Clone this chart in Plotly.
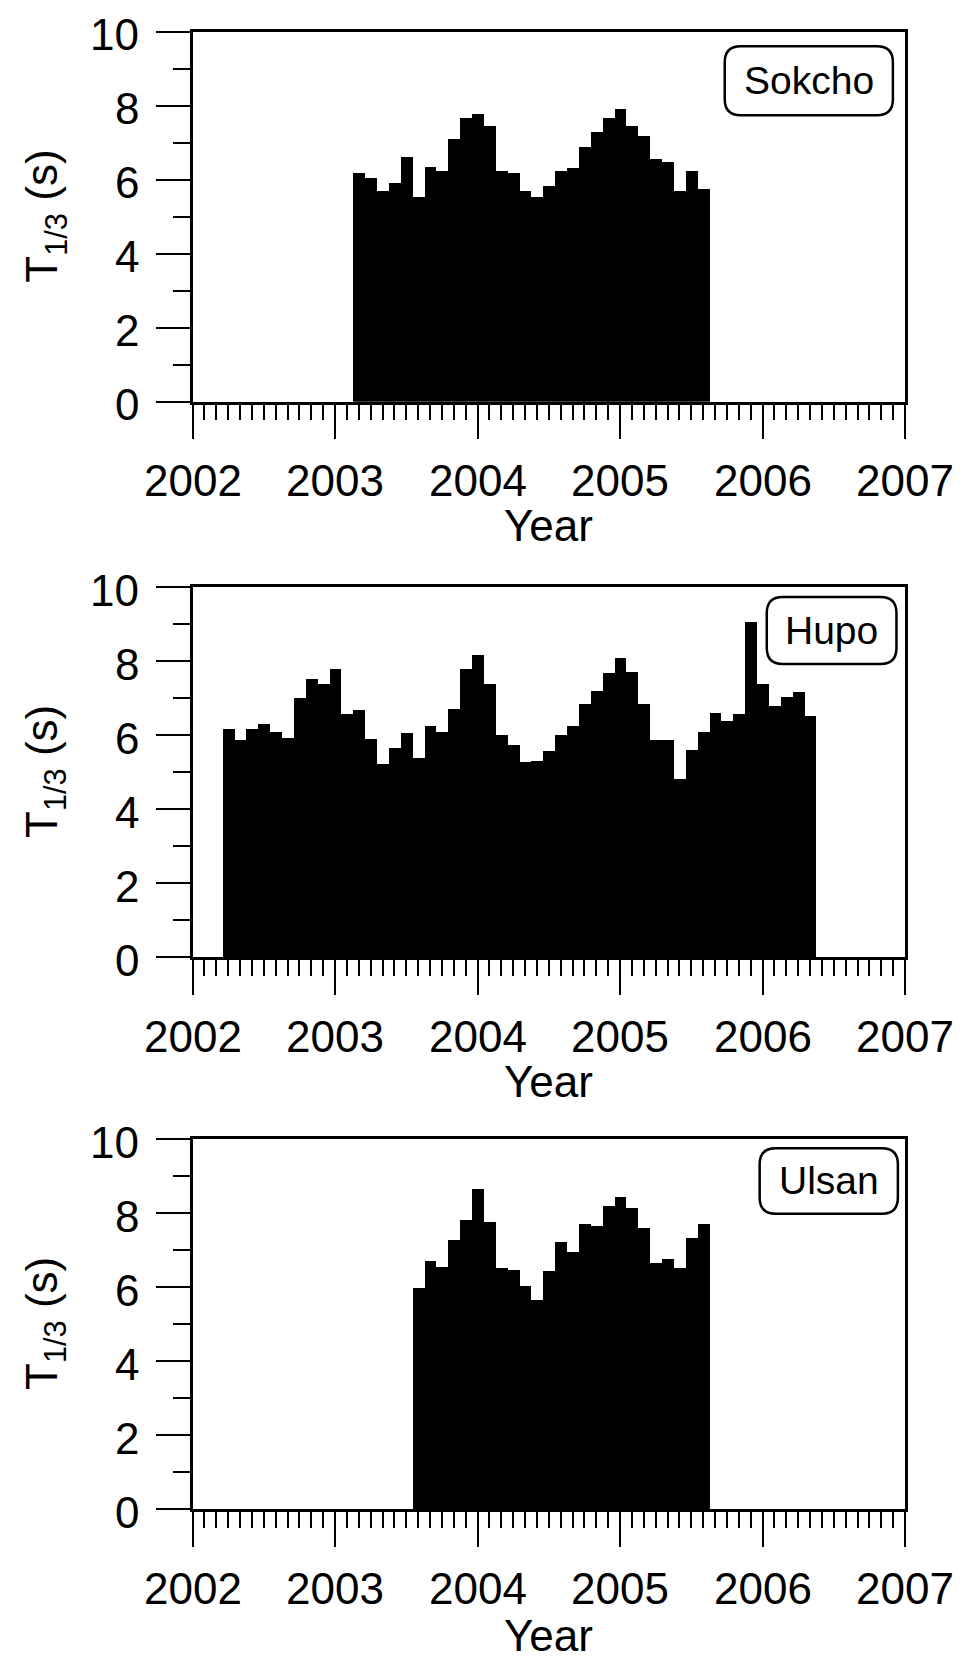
import plotly.graph_objects as go

# ---------------- data (monthly mean significant wave period, s) ----------------
stations = ["Sokcho", "Hupo", "Ulsan"]

sokcho_start = "2003-03"
sokcho_t13 = [6.18, 6.05, 5.69, 5.91, 6.63, 5.53, 6.36, 6.23, 7.11, 7.68,
              7.79, 7.45, 6.25, 6.18, 5.69, 5.53, 5.83, 6.25, 6.33, 6.89,
              7.29, 7.68, 7.92, 7.45, 7.18, 6.57, 6.50, 5.69, 6.24, 5.76]

hupo_start = "2002-04"
hupo_t13 = [6.15, 5.86, 6.15, 6.30, 6.08, 5.92, 6.99, 7.51, 7.38, 7.78,
            6.58, 6.67, 5.88, 5.22, 5.64, 6.05, 5.37, 6.23, 6.09, 6.69,
            7.78, 8.16, 7.38, 6.01, 5.74, 5.28, 5.29, 5.57, 6.01, 6.23,
            6.85, 7.18, 7.67, 8.09, 7.69, 6.85, 5.87, 5.87, 4.81, 5.59,
            6.08, 6.60, 6.37, 6.56, 9.05, 7.38, 6.79, 7.04, 7.15, 6.52]

ulsan_start = "2003-08"
ulsan_t13 = [5.97, 6.71, 6.55, 7.27, 7.82, 8.66, 7.75, 6.52, 6.46, 6.03,
             5.65, 6.42, 7.21, 6.94, 7.69, 7.64, 8.19, 8.42, 8.13, 7.60,
             6.66, 6.75, 6.52, 7.33, 7.71]

year_ticks = [2002, 2003, 2004, 2005, 2006, 2007]
y_ticks = [0, 2, 4, 6, 8, 10]


def month_labels(start, n):
    y, m = map(int, start.split("-"))
    out = []
    for _ in range(n):
        out.append(f"{y:04d}-{m:02d}")
        m += 1
        if m > 12:
            m = 1
            y += 1
    return out


def to_decimal_year(label):
    y, m = map(int, label.split("-"))
    return y + (m - 1) / 12.0


series = [
    (month_labels(sokcho_start, len(sokcho_t13)), sokcho_t13),
    (month_labels(hupo_start, len(hupo_t13)), hupo_t13),
    (month_labels(ulsan_start, len(ulsan_t13)), ulsan_t13),
]

# ---------------- layout geometry ----------------
OFF = 8                      # default page (body) margin of the html page
PAGE_W, PAGE_H = 967, 1656
W, H = PAGE_W - OFF, PAGE_H - OFF


def fx(px):  # page px -> paper fraction (x)
    return (px - OFF) / W


def fy(py):  # page px -> paper fraction (y, from bottom)
    return 1 - (py - OFF) / H


AX_LEFT, AX_RIGHT = 192.5, 905.0
x_dom = [fx(AX_LEFT), fx(AX_RIGHT)]
panels_px = [(31.7, 401.7), (587, 957), (1139.0, 1509.0)]  # (top, bottom) page px
FONT = "Liberation Sans, Arial, Helvetica, sans-serif"
TICK_SIZE = 44
LABEL_SIZE = 39

fig = go.Figure()
shapes = []
annotations = []
txt_font = dict(family=FONT, size=TICK_SIZE, color="black")

for i, ((months, vals), name) in enumerate(zip(series, stations)):
    k = "" if i == 0 else str(i + 1)
    xs = [to_decimal_year(mo) for mo in months]
    fig.add_trace(go.Bar(
        x=xs, y=vals, width=[1 / 12.0] * len(xs),
        marker=dict(color="black", line=dict(width=0)),
        xaxis="x" + k, yaxis="y" + k, showlegend=False,
        hovertemplate="%{x:.2f}: %{y:.2f} s<extra></extra>",
    ))
    top, bot = panels_px[i]
    y_dom = [fy(bot), fy(top)]
    fig.layout["xaxis" + k] = dict(
        domain=x_dom, anchor="y" + k, range=[2002, 2007], automargin=False,
        tickmode="array", tickvals=year_ticks, showticklabels=False,
        ticks="outside", ticklen=35, tickwidth=2, tickcolor="black",
        minor=dict(tickmode="linear", tick0=2002, dtick=1 / 12.0, ticks="outside",
                   ticklen=16, tickwidth=2, tickcolor="black", showgrid=False),
        showline=True, linecolor="black", linewidth=2.5, mirror=True,
        showgrid=False, zeroline=False,
    )
    fig.layout["yaxis" + k] = dict(
        domain=y_dom, anchor="x" + k, range=[0, 10], automargin=False,
        tickmode="array", tickvals=y_ticks, showticklabels=False,
        ticks="outside", ticklen=34, tickwidth=2, tickcolor="black",
        minor=dict(tickmode="linear", tick0=1, dtick=2, ticks="outside",
                   ticklen=17, tickwidth=2, tickcolor="black", showgrid=False),
        showline=True, linecolor="black", linewidth=2.5, mirror=True,
        showgrid=False, zeroline=False,
    )
    # tick labels (y)
    for v in y_ticks:
        annotations.append(dict(
            text=str(v), xref="x" + k + " domain", x=0, xshift=141 - AX_LEFT,
            yref="y" + k, y=v, yshift=-3, xanchor="right", yanchor="middle",
            showarrow=False, font=txt_font,
        ))
    # tick labels (x)
    for yr in year_ticks:
        annotations.append(dict(
            text=str(yr), xref="x" + k, x=yr, yref="y" + k + " domain", y=0,
            yshift=-79, xanchor="center", yanchor="middle",
            showarrow=False, font=txt_font,
        ))
    # axis titles
    annotations.append(dict(
        text="Year", xref="x" + k + " domain", x=0.5, yref="y" + k + " domain", y=0,
        yshift=-(126 if i == 2 else 124), xanchor="center", yanchor="middle",
        showarrow=False, font=txt_font,
    ))
    annotations.append(dict(
        text="T<sub>1/3</sub> (s)", xref="paper", x=fx(45),
        yref="y" + k + " domain", y=0.5, textangle=-90,
        xanchor="center", yanchor="middle", showarrow=False, font=txt_font,
    ))

# station label boxes (x domain fractions, y domain fractions)
boxes = [
    (0.747, 0.983, 0.774, 0.961),
    (0.806, 0.988, 0.792, 0.973),
    (0.796, 0.990, 0.798, 0.975),
]
for i, (name, (bx0, bx1, by0, by1)) in enumerate(zip(stations, boxes)):
    k = "" if i == 0 else str(i + 1)
    top, bot = panels_px[i]
    rx = 16 / (AX_RIGHT - AX_LEFT)
    ry = 16 / (bot - top)
    path = (f"M {bx0+rx},{by1} L {bx1-rx},{by1} Q {bx1},{by1} {bx1},{by1-ry} "
            f"L {bx1},{by0+ry} Q {bx1},{by0} {bx1-rx},{by0} "
            f"L {bx0+rx},{by0} Q {bx0},{by0} {bx0},{by0+ry} "
            f"L {bx0},{by1-ry} Q {bx0},{by1} {bx0+rx},{by1} Z")
    shapes.append(dict(type="path", path=path, xref="x" + k + " domain",
                       yref="y" + k + " domain", line=dict(color="black", width=2.5),
                       fillcolor="white", layer="above"))
    annotations.append(dict(
        text=name, xref="x" + k + " domain", yref="y" + k + " domain",
        x=(bx0 + bx1) / 2, y=(by0 + by1) / 2, xanchor="center", yanchor="middle",
        showarrow=False, font=dict(family=FONT, size=LABEL_SIZE, color="black"),
    ))

fig.update_layout(
    template="none",
    width=W, height=H, margin=dict(l=0, r=0, t=0, b=0, autoexpand=False),
    paper_bgcolor="white", plot_bgcolor="white",
    bargap=0, shapes=shapes, annotations=annotations,
    font=dict(family=FONT, color="black"), showlegend=False,
)

fig.write_html("out.html")
